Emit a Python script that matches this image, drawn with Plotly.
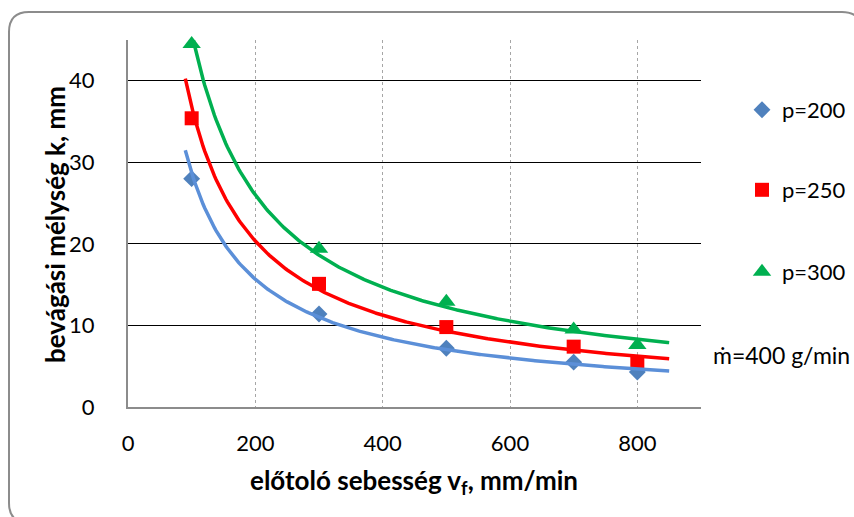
import numpy as np
import plotly.graph_objects as go

# ---- data ----
feed_speed = [100, 300, 500, 700, 800]          # mm/min
depth_p200 = [28.0, 11.4, 7.2, 5.5, 4.3]        # mm
depth_p250 = [35.4, 15.1, 9.8, 7.4, 5.5]
depth_p300 = [44.5, 19.4, 12.9, 9.5, 7.6]
series_names = ["p=200", "p=250", "p=300"]
trend_range = [90, 850]                          # trendline (power fit) extent
note_text = "ṁ=400 g/min"
x_ticks = [0, 200, 400, 600, 800]
y_ticks = [0, 10, 20, 30, 40]

marker_colors = ["#4F81BD", "#FF0000", "#00B050"]
line_colors = ["#5B8FD8", "#FF0000", "#00B050"]
symbols = ["diamond", "square", "triangle-up"]
sizes = [13, 14, 16]

FONT = "Lato"

# plot area in pixels
W, H = 854, 517
L, R, T, B = 128, 701, 40, 407


def px(xp):
    return (xp - L) / (R - L)


def py(yp):
    return (B - yp) / (B - T)


fig = go.Figure()
xs = np.array(feed_speed, dtype=float)
all_depths = [depth_p200, depth_p250, depth_p300]
xt = np.linspace(trend_range[0], trend_range[1], 300)

for i, ys in enumerate(all_depths):
    fig.add_trace(go.Scatter(
        x=feed_speed, y=ys, mode="markers", name=series_names[i],
        marker=dict(symbol=symbols[i], size=sizes[i], color=marker_colors[i]),
        cliponaxis=False, legend="legend" if i == 0 else f"legend{i+1}",
    ))

for i, ys in enumerate(all_depths):
    b, lna = np.polyfit(np.log(xs), np.log(np.array(ys)), 1)
    yt = np.exp(lna) * xt ** b
    fig.add_trace(go.Scatter(
        x=xt, y=yt, mode="lines", showlegend=False,
        line=dict(color=line_colors[i], width=3.5), hoverinfo="skip",
    ))

# rounded chart border
x0, y0, x1, y1, r = 9, 12, 862, 523, 20
path = (f"M {px(x0+r)},{py(y0)} L {px(x1-r)},{py(y0)} Q {px(x1)},{py(y0)} {px(x1)},{py(y0+r)} "
        f"L {px(x1)},{py(y1-r)} Q {px(x1)},{py(y1)} {px(x1-r)},{py(y1)} "
        f"L {px(x0+r)},{py(y1)} Q {px(x0)},{py(y1)} {px(x0)},{py(y1-r)} "
        f"L {px(x0)},{py(y0+r)} Q {px(x0)},{py(y0)} {px(x0+r)},{py(y0)} Z")

legend_common = dict(xanchor="left", yanchor="middle", bgcolor="rgba(0,0,0,0)",
                     font=dict(family=FONT, size=22, color="#000000"))

fig.update_layout(
    width=W, height=H,
    margin=dict(l=L, r=W - R, t=T, b=H - B, autoexpand=False),
    paper_bgcolor="white", plot_bgcolor="white",
    font=dict(family=FONT, size=22, color="#000000"),
    shapes=[dict(type="path", xref="paper", yref="paper", path=path,
                 line=dict(color="#8C8C8C", width=2), layer="below")],
    legend=dict(x=px(742), y=py(110), **legend_common),
    legend2=dict(x=px(742), y=py(190), **legend_common),
    legend3=dict(x=px(742), y=py(272), **legend_common),
    annotations=[
        dict(text=note_text, xref="paper", yref="paper", x=px(781), y=py(355),
             xanchor="center", yanchor="middle", showarrow=False,
             font=dict(family=FONT, size=23, color="#000000")),
        dict(text="<b>előtoló sebesség v<sub>f</sub>, mm/min</b>", xref="paper", yref="paper",
             x=px(414), y=py(481), xanchor="center", yanchor="middle", showarrow=False,
             font=dict(family=FONT, size=26, color="#000000")),
        dict(text="<b>bevágási mélység k, mm</b>", xref="paper", yref="paper",
             x=px(55), y=py(225), xanchor="center", yanchor="middle",
             showarrow=False, textangle=-90,
             font=dict(family=FONT, size=26, color="#000000")),
    ],
)

fig.update_xaxes(range=[0, 900], tickvals=x_ticks, showgrid=True,
                 gridcolor="#A6A6A6", griddash="dot", gridwidth=1,
                 showline=True, linecolor="#8C8C8C", linewidth=2,
                 zeroline=False, ticks="", ticklabelstandoff=16,
                 tickfont=dict(family=FONT, size=22, color="#000000"))
fig.update_yaxes(range=[0, 45], tickvals=y_ticks, showgrid=True,
                 gridcolor="#000000", gridwidth=1.3,
                 showline=True, linecolor="#8C8C8C", linewidth=2,
                 zeroline=False, ticks="", ticklabelstandoff=27,
                 tickfont=dict(family=FONT, size=22, color="#000000"))

fig.write_html("out.html", post_script="document.body.style.margin='0';",
               config={"displayModeBar": False})
